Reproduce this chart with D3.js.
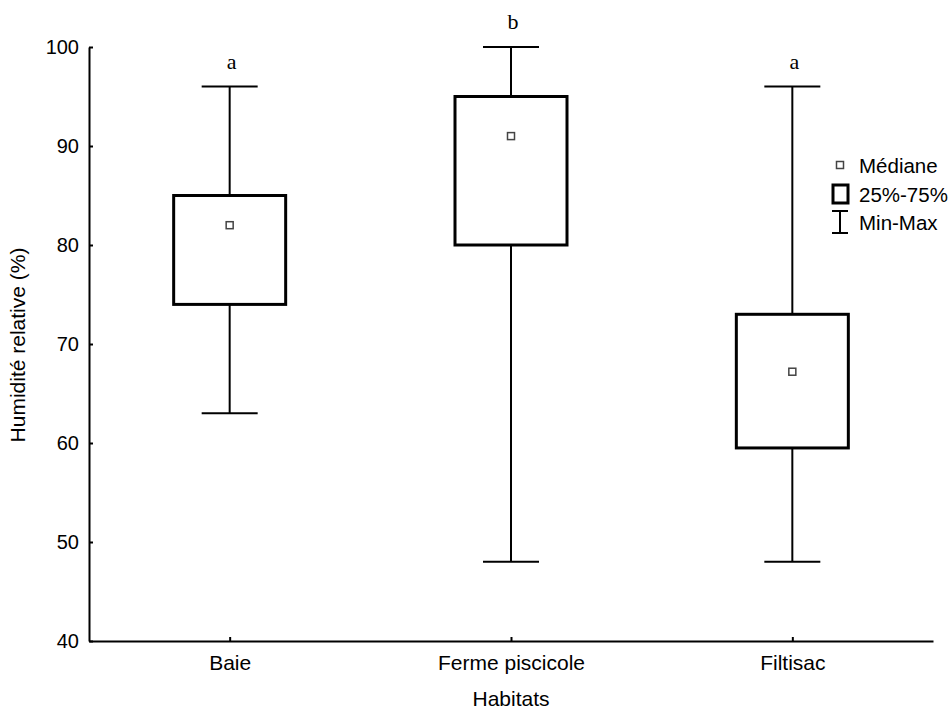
<!DOCTYPE html>
<html>
<head>
<meta charset="utf-8">
<script src="https://cdn.jsdelivr.net/npm/d3@7"></script>
<style>
  body { margin: 0; background: #fff; }
  text { font-family: "Liberation Sans", Arial, sans-serif; fill: #000; }
</style>
</head>
<body>
<svg id="chart" width="949" height="714"></svg>
<script>
// Relative humidity per habitat: min, quartiles, median, max
const categories = ["Baie", "Ferme piscicole", "Filtisac"];
const minValues = [63, 48, 48];
const q1Values = [74, 80, 59.5];
const medianValues = [82, 91, 67.2];
const q3Values = [85, 95, 73];
const maxValues = [96, 100, 96];
const groupLetters = ["a", "b", "a"];
const yTicks = [40, 50, 60, 70, 80, 90, 100];
const legendLabels = ["Médiane", "25%-75%", "Min-Max"];

const svg = d3.select("#chart");
const plotLeft = 89, plotRight = 933, plotTop = 47, plotBottom = 641;

const x = d3.scalePoint().domain(categories).range([plotLeft, plotRight]).padding(0.5);
const y = d3.scaleLinear().domain([40, 100]).range([plotBottom, plotTop]);

const boxes = categories.map((c, i) => ({
  cat: c, min: minValues[i], q1: q1Values[i], med: medianValues[i],
  q3: q3Values[i], max: maxValues[i], letter: groupLetters[i]
}));

// Axes with inward ticks
const yAxis = svg.append("g")
  .attr("transform", `translate(${plotLeft},0)`)
  .call(d3.axisLeft(y).tickValues(yTicks).tickSizeInner(-4).tickSizeOuter(0).tickPadding(10));
const xAxis = svg.append("g")
  .attr("transform", `translate(0,${plotBottom})`)
  .call(d3.axisBottom(x).tickSizeInner(-4).tickSizeOuter(0).tickPadding(14));
[yAxis, xAxis].forEach(g => {
  g.select(".domain").attr("stroke", "#000").attr("stroke-width", 2);
  g.selectAll(".tick line").attr("stroke", "#000").attr("stroke-width", 2);
  g.selectAll(".tick text").attr("fill", "#000")
    .attr("font-family", "Liberation Sans, Arial, sans-serif");
});
yAxis.selectAll(".tick text").attr("font-size", 20);
xAxis.selectAll(".tick text").attr("font-size", 21);

// Axis titles
svg.append("text")
  .attr("x", (plotLeft + plotRight) / 2).attr("y", 706)
  .attr("text-anchor", "middle").attr("font-size", 21)
  .text("Habitats");
svg.append("text")
  .attr("transform", `translate(25,345) rotate(-90)`)
  .attr("text-anchor", "middle").attr("font-size", 21)
  .text("Humidité relative (%)");

// Box plots
const boxHalf = 56, capHalf = 28;
const g = svg.append("g").selectAll("g").data(boxes).join("g");

g.append("line")
  .attr("x1", d => x(d.cat)).attr("x2", d => x(d.cat))
  .attr("y1", d => y(d.max)).attr("y2", d => y(d.q3))
  .attr("stroke", "#000").attr("stroke-width", 2);
g.append("line")
  .attr("x1", d => x(d.cat)).attr("x2", d => x(d.cat))
  .attr("y1", d => y(d.q1)).attr("y2", d => y(d.min))
  .attr("stroke", "#000").attr("stroke-width", 2);
g.append("line")
  .attr("x1", d => x(d.cat) - capHalf).attr("x2", d => x(d.cat) + capHalf)
  .attr("y1", d => y(d.max)).attr("y2", d => y(d.max))
  .attr("stroke", "#000").attr("stroke-width", 2);
g.append("line")
  .attr("x1", d => x(d.cat) - capHalf).attr("x2", d => x(d.cat) + capHalf)
  .attr("y1", d => y(d.min)).attr("y2", d => y(d.min))
  .attr("stroke", "#000").attr("stroke-width", 2);
g.append("rect")
  .attr("x", d => x(d.cat) - boxHalf).attr("width", boxHalf * 2)
  .attr("y", d => y(d.q3)).attr("height", d => y(d.q1) - y(d.q3))
  .attr("fill", "#fff").attr("stroke", "#000").attr("stroke-width", 3);
g.append("rect")
  .attr("x", d => x(d.cat) - 3.5).attr("width", 7)
  .attr("y", d => y(d.med) - 3.5).attr("height", 7)
  .attr("fill", "#fff").attr("stroke", "#444").attr("stroke-width", 1.5);
g.append("text")
  .attr("x", d => x(d.cat) + 2).attr("y", d => y(d.max) - 18)
  .attr("text-anchor", "middle").attr("font-size", 22)
  .style("font-family", "'Liberation Serif', 'Times New Roman', serif")
  .text(d => d.letter);

// Legend
const lg = svg.append("g");
lg.append("rect").attr("x", 836.5).attr("y", 161.5).attr("width", 7).attr("height", 7)
  .attr("fill", "#fff").attr("stroke", "#444").attr("stroke-width", 1.5);
lg.append("rect").attr("x", 833).attr("y", 185).attr("width", 15).attr("height", 18)
  .attr("fill", "#fff").attr("stroke", "#000").attr("stroke-width", 3);
lg.append("line").attr("x1", 832).attr("x2", 848).attr("y1", 211).attr("y2", 211)
  .attr("stroke", "#000").attr("stroke-width", 2);
lg.append("line").attr("x1", 832).attr("x2", 848).attr("y1", 233).attr("y2", 233)
  .attr("stroke", "#000").attr("stroke-width", 2);
lg.append("line").attr("x1", 840).attr("x2", 840).attr("y1", 211).attr("y2", 233)
  .attr("stroke", "#000").attr("stroke-width", 2);
lg.selectAll("text.leg").data(legendLabels).join("text")
  .attr("class", "leg")
  .attr("x", 859).attr("y", (d, i) => [173, 202, 230][i])
  .attr("font-size", 20.5)
  .text(d => d);
</script>
</body>
</html>
